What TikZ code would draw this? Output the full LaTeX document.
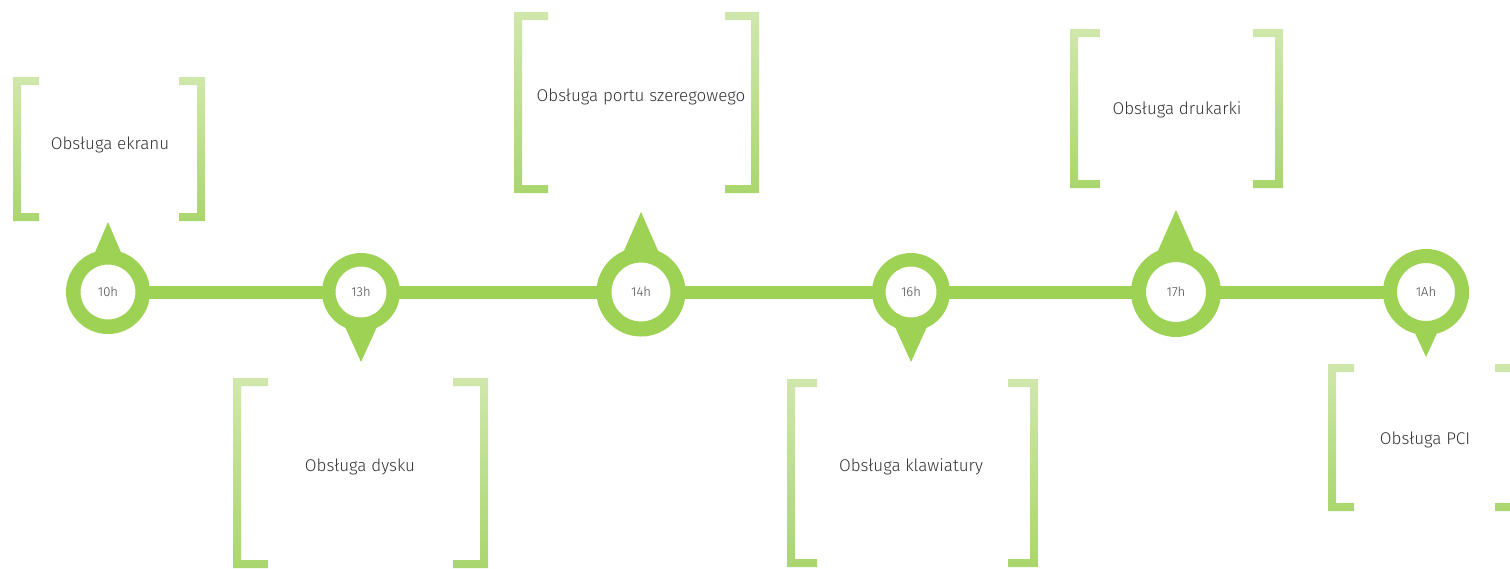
\documentclass[tikz,border=0pt]{standalone}
\usepackage{fontspec}
\setmainfont{Fira Sans Light}
\definecolor{tlgreen}{RGB}{158,210,84}
\definecolor{brtop}{RGB}{208,231,172}
\definecolor{brbot}{RGB}{170,214,110}
\definecolor{txtgray}{RGB}{50,50,50}
\definecolor{hrgray}{RGB}{70,70,70}

% bracket pair: #1 left x, #2 right x, #3 top y, #4 bottom y, #5 tab length, #6 thickness
\newcommand\bracketpair[6]{%
  \shade[top color=brtop, bottom color=brbot]
    (#1,#3) -- ({#1+#5},#3) -- ({#1+#5},{#3+#6}) -- ({#1+#6},{#3+#6})
    -- ({#1+#6},{#4-#6}) -- ({#1+#5},{#4-#6}) -- ({#1+#5},#4) -- (#1,#4) -- cycle;
  \shade[top color=brtop, bottom color=brbot]
    (#2,#3) -- ({#2-#5},#3) -- ({#2-#5},{#3+#6}) -- ({#2-#6},{#3+#6})
    -- ({#2-#6},{#4-#6}) -- ({#2-#5},{#4-#6}) -- ({#2-#5},#4) -- (#2,#4) -- cycle;
}
% pin triangle: #1 centre, #2 apex offset (negative = up), #3 base offset, #4 half width
\newcommand\pinmark[4]{%
  \fill[tlgreen] ([shift={(-#4,#3)}]#1) -- ([shift={(0,#2)}]#1) -- ([shift={(#4,#3)}]#1) -- cycle;
}

\tikzset{
  ring/.style={circle, draw=tlgreen, fill=white, inner sep=0pt, outer sep=0pt,
    font=\fontsize{13}{15}\selectfont, text=hrgray},
  topic/.style={font=\fontsize{17}{20}\selectfont, text=txtgray, inner sep=0pt},
  axis/.style={draw=tlgreen, line width=13pt}
}

\begin{document}
\begin{tikzpicture}[x=1pt,y=-1pt]
\useasboundingbox (0,0) rectangle (1510,568);

% stops along the time line
\coordinate (p1) at (108,292);
\coordinate (p2) at (361,292);
\coordinate (p3) at (641,292);
\coordinate (p4) at (911,292);
\coordinate (p5) at (1176,292);
\coordinate (p6) at (1426,292);
\coordinate (lineend) at (1469,292);

% time line
\draw[axis] (p1) -- (lineend);

% pin points
\pinmark{p1}{-70}{-28}{18}
\pinmark{p2}{70}{26}{20}
\pinmark{p3}{-80}{-30}{22}
\pinmark{p4}{70}{26}{20}
\pinmark{p5}{-82}{-30}{23}
\pinmark{p6}{65}{28}{17}

% rings with hour labels
\node[ring, line width=14.5pt, minimum size=69.5pt] (c1) at (p1) {10h};
\node[ring, line width=13.5pt, minimum size=64.5pt] (c2) at (p2) {13h};
\node[ring, line width=15pt, minimum size=74pt] (c3) at (p3) {14h};
\node[ring, line width=13.5pt, minimum size=64.5pt] (c4) at (p4) {16h};
\node[ring, line width=15pt, minimum size=75pt] (c5) at (p5) {17h};
\node[ring, line width=14pt, minimum size=72pt] (c6) at (p6) {1Ah};

% bracketed topics
\bracketpair{13}{205}{77}{221}{26}{8}
\node[topic] (t1) at (110,145) {Obsługa ekranu};

\bracketpair{233}{488}{378}{568}{35}{8}
\node[topic] (t2) at (360,467) {Obsługa dysku};

\bracketpair{514}{759}{12}{193}{34}{8}
\node[topic] (t3) at (641,97) {Obsługa portu szeregowego};

\bracketpair{787}{1038}{379}{567}{30}{8}
\node[topic] (t4) at (911,467) {Obsługa klawiatury};

\bracketpair{1070}{1283}{29}{188}{30}{8}
\node[topic] (t5) at (1177,110) {Obsługa drukarki};

\bracketpair{1328}{1521}{364}{511}{26}{8}
\node[topic] (t6) at (1425,440) {Obsługa PCI};
\end{tikzpicture}
\end{document}
